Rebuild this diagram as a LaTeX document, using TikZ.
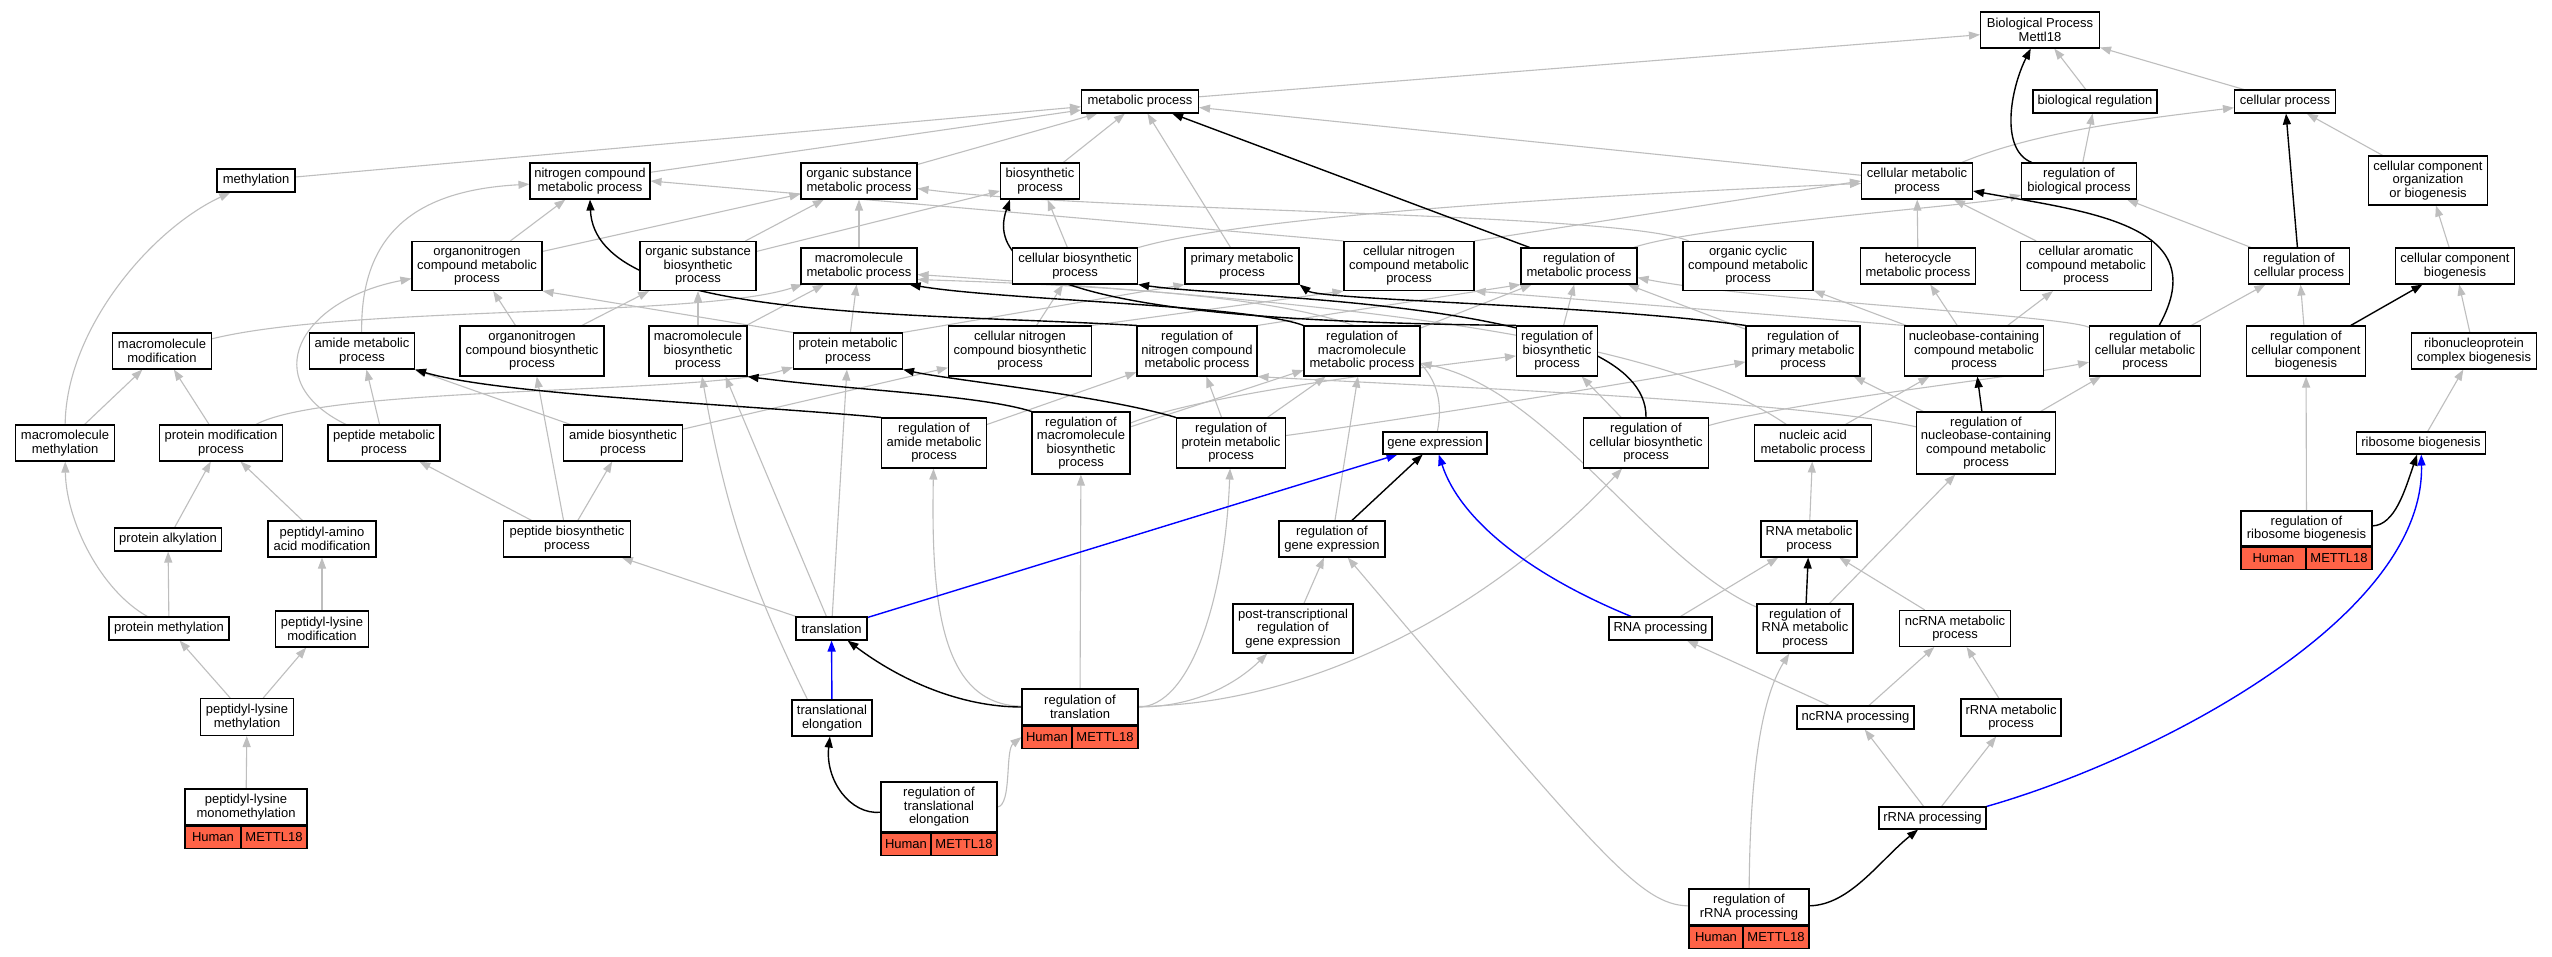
\documentclass[tikz,border=0pt]{standalone}
\usepackage{fontspec}
\setmainfont{Liberation Sans}
\usetikzlibrary{arrows.meta,backgrounds}
\definecolor{edgegray}{RGB}{190,190,190}
\definecolor{hitred}{RGB}{255,99,71}
\definecolor{partblue}{RGB}{0,0,255}

\begin{document}
\begin{tikzpicture}[x=1pt,y=1pt,
    term/.style={rectangle,draw=black,line width=1.1pt,fill=white,align=center,
      inner sep=0pt,font=\fontsize{13}{13.5}\selectfont},
    box/.style 2 args={minimum width=#1pt,minimum height=#2pt},
    hit/.style={term,fill=hitred,minimum height=22pt},
    isa/.style={draw=edgegray,line width=1.1pt,-{Triangle[length=11pt,width=8pt]}},
    reg/.style={draw=black,line width=1.4pt,-{Triangle[length=11pt,width=8pt]}},
    partof/.style={draw=partblue,line width=1.4pt,-{Triangle[length=11pt,width=8pt]}}]

        \useasboundingbox (0,0) rectangle (2552,-957);
        \begin{scope}[on background layer]
          \fill[white] (0,0) rectangle (2552,-957);
        \end{scope}

        \begin{scope}[every node/.style={term}]
          % row 0 and 1
          \node[box={119}{36}] (BP)       at (2040,-30)    {Biological Process\\Mettl18};
          \node[box={117}{23}] (metab)    at (1140,-101.5) {metabolic process};
          \node[box={124}{23}] (bioreg)   at (2095,-101.5) {biological regulation};
          \node[box={101}{23}] (cellproc) at (2285,-101.5) {cellular process};
          % row 2
          \node[box={78}{23}]  (methyl)  at (256,-180.5)  {methylation};
          \node[box={120}{36}] (nitro)   at (590,-181)    {nitrogen compound\\metabolic process};
          \node[box={116}{36}] (orgsub)  at (859,-181)    {organic substance\\metabolic process};
          \node[box={79}{36}]  (biosyn)  at (1040,-181)   {biosynthetic\\process};
          \node[box={111}{36}] (cellmet) at (1917,-181)   {cellular metabolic\\process};
          \node[box={115}{36}] (regbio)  at (2079,-181)   {regulation of\\biological process};
          \node[box={119}{49}] (ccob)    at (2428,-180.5) {cellular component\\organization\\or biogenesis};
          % row 3
          \node[box={130}{49}] (orgnmet)     at (477,-266)  {organonitrogen\\compound metabolic\\process};
          \node[box={116}{49}] (orgsubbio)   at (698,-266)  {organic substance\\biosynthetic\\process};
          \node[box={116}{36}] (macromet)    at (859,-266)  {macromolecule\\metabolic process};
          \node[box={125}{36}] (cellbio)     at (1075,-266) {cellular biosynthetic\\process};
          \node[box={114}{36}] (primary)     at (1242,-266) {primary metabolic\\process};
          \node[box={130}{49}] (cellnitmet)  at (1409,-266) {cellular nitrogen\\compound metabolic\\process};
          \node[box={116}{36}] (regmet)      at (1579,-266) {regulation of\\metabolic process};
          \node[box={130}{49}] (orgcyc)      at (1748,-266) {organic cyclic\\compound metabolic\\process};
          \node[box={115}{36}] (hetero)      at (1918,-266) {heterocycle\\metabolic process};
          \node[box={131}{49}] (cellarom)    at (2086,-266) {cellular aromatic\\compound metabolic\\process};
          \node[box={101}{36}] (regcellproc) at (2299,-266) {regulation of\\cellular process};
          \node[box={119}{36}] (ccbio)       at (2455,-266) {cellular component\\biogenesis};
          % row 4
          \node[box={99}{36}]  (macromod)    at (162,-351)  {macromolecule\\modification};
          \node[box={105}{36}] (amide)       at (362,-351)  {amide metabolic\\process};
          \node[box={144}{50}] (orgnbio)     at (532,-351)  {organonitrogen\\compound biosynthetic\\process};
          \node[box={98}{50}]  (macrobio)    at (698,-351)  {macromolecule\\biosynthetic\\process};
          \node[box={109}{36}] (protmet)     at (848,-351)  {protein metabolic\\process};
          \node[box={143}{50}] (cellnitbio)  at (1020,-351) {cellular nitrogen\\compound biosynthetic\\process};
          \node[box={120}{50}] (regnit)      at (1197,-351) {regulation of\\nitrogen compound\\metabolic process};
          \node[box={116}{50}] (regmacromet) at (1362,-351) {regulation of\\macromolecule\\metabolic process};
          \node[box={81}{50}]  (regbiosyn)   at (1557,-351) {regulation of\\biosynthetic\\process};
          \node[box={114}{50}] (regprim)     at (1803,-351) {regulation of\\primary metabolic\\process};
          \node[box={139}{50}] (nucmet)      at (1974,-351) {nucleobase-containing\\compound metabolic\\process};
          \node[box={111}{50}] (regcellmet)  at (2145,-351) {regulation of\\cellular metabolic\\process};
          \node[box={119}{50}] (regccbio)    at (2306,-351) {regulation of\\cellular component\\biogenesis};
          \node[box={125}{36}] (rnpbio)      at (2474,-351) {ribonucleoprotein\\complex biogenesis};
          % row 5
          \node[box={99}{36}]  (macrometh)   at (65,-443)   {macromolecule\\methylation};
          \node[box={123}{36}] (protmod)     at (221,-443)  {protein modification\\process};
          \node[box={112}{36}] (peptidemet)  at (384,-443)  {peptide metabolic\\process};
          \node[box={119}{36}] (amidebio)    at (623,-443)  {amide biosynthetic\\process};
          \node[box={105}{50}] (regamide)    at (934,-443)  {regulation of\\amide metabolic\\process};
          \node[box={98}{62}]  (regmacrobio) at (1081,-443) {regulation of\\macromolecule\\biosynthetic\\process};
          \node[box={109}{50}] (regprot)     at (1231,-443) {regulation of\\protein metabolic\\process};
          \node[box={104}{22}] (genexp)      at (1435,-443) {gene expression};
          \node[box={125}{50}] (regcellbio)  at (1646,-443) {regulation of\\cellular biosynthetic\\process};
          \node[box={117}{36}] (nucacid)     at (1813,-443) {nucleic acid\\metabolic process};
          \node[box={139}{62}] (regnuc)      at (1986,-443) {regulation of\\nucleobase-containing\\compound metabolic\\process};
          \node[box={129}{22}] (ribobio)     at (2421,-443) {ribosome biogenesis};
          % row 6
          \node[box={107}{23}] (protalk)    at (168,-539.5)  {protein alkylation};
          \node[box={108}{36}] (pepaa)      at (322,-539)    {peptidyl-amino\\acid modification};
          \node[box={127}{36}] (peptidebio) at (567,-539)    {peptide biosynthetic\\process};
          \node[box={106}{36}] (reggene)    at (1332,-539)   {regulation of\\gene expression};
          \node[box={96}{36}]  (rnamet)     at (1809,-539)   {RNA metabolic\\process};
          \node[box={131}{35}] (regribo)    at (2306.5,-528.5) {regulation of\\ribosome biogenesis};
          % row 7
          \node[box={120}{23}] (protmeth)    at (169,-628.5)  {protein methylation};
          \node[box={93}{36}]  (peplysmod)   at (322,-629)    {peptidyl-lysine\\modification};
          \node[box={71}{23}]  (translation) at (831.5,-628.5) {translation};
          \node[box={120}{49}] (ptreg)       at (1293,-628.5) {post-transcriptional\\regulation of\\gene expression};
          \node[box={103}{23}] (rnaproc)     at (1660.5,-628.5) {RNA processing};
          \node[box={96}{49}]  (regrna)      at (1805,-628.5) {regulation of\\RNA metabolic\\process};
          \node[box={111}{36}] (ncrnamet)    at (1955,-628.5) {ncRNA metabolic\\process};
          % row 8
          \node[box={93}{37}]  (peplysmeth)  at (247,-717)    {peptidyl-lysine\\methylation};
          \node[box={80}{36}]  (translelong) at (832,-718)    {translational\\elongation};
          \node[box={116}{36}] (regtransl)   at (1080,-707)   {regulation of\\translation};
          \node[box={117}{23}] (ncrnaproc)   at (1855.5,-717.5) {ncRNA processing};
          \node[box={100}{37}] (rrnamet)     at (2011,-717.5) {rRNA metabolic\\process};
          % row 9 and 10
          \node[box={122}{36}] (mono)           at (246,-807)    {peptidyl-lysine\\monomethylation};
          \node[box={116}{50}] (regtranslelong) at (939,-807)    {regulation of\\translational\\elongation};
          \node[box={107}{22}] (rrnaproc)       at (1932.5,-818) {rRNA processing};
          \node[box={120}{36}] (regrrna)        at (1749,-907)   {regulation of\\rRNA processing};

          % annotation rows
          \node[hit,anchor=north west,minimum width=56pt] (monoH) at (mono.south west) {Human};
          \node[hit,anchor=north east,minimum width=66pt] (monoM) at (mono.south east) {METTL18};
          \node[hit,anchor=north west,minimum width=50pt] (regtranslelongH) at (regtranslelong.south west) {Human};
          \node[hit,anchor=north east,minimum width=66pt] (regtranslelongM) at (regtranslelong.south east) {METTL18};
          \node[hit,anchor=north west,minimum width=50pt] (regtranslH) at (regtransl.south west) {Human};
          \node[hit,anchor=north east,minimum width=66pt] (regtranslM) at (regtransl.south east) {METTL18};
          \node[hit,anchor=north west,minimum width=65pt] (regriboH) at (regribo.south west) {Human};
          \node[hit,anchor=north east,minimum width=66pt] (regriboM) at (regribo.south east) {METTL18};
          \node[hit,anchor=north west,minimum width=54pt] (regrrnaH) at (regrrna.south west) {Human};
          \node[hit,anchor=north east,minimum width=66pt] (regrrnaM) at (regrrna.south east) {METTL18};
        \end{scope}

        \begin{scope}[on background layer]

          \begin{scope}[every edge/.style={isa}]
            \path (metab) edge (BP);
            \path (bioreg) edge (BP);
            \path (cellproc) edge (BP);
            \path (regbio) edge (bioreg);
            \path (cellmet) edge (metab);
            \path (methyl) edge (metab);
            \path (nitro) edge (metab);
            \path (orgsub) edge (metab);
            \path (biosyn) edge (metab);
            \path (primary) edge (metab);
            \path (ccob) edge (cellproc);
            \path (regcellproc) edge (regbio);
            \path (ccbio) edge (ccob);
            \path (regccbio) edge (regcellproc);
            \path (rnpbio) edge (ccbio);
            \path (ribobio) edge (rnpbio);
            \path (regribo) edge (regccbio);
            \path (regcellmet) edge (regcellproc);
            \path (orgnmet) edge (nitro);
            \path (orgnmet) edge (orgsub);
            \path (orgsubbio) edge (orgsub);
            \path (orgsubbio) edge (biosyn);
            \path (macromet) edge (orgsub);
            \path (cellbio) edge (biosyn);
            \path (cellnitmet.north east) edge (cellmet.west);
            \path (cellnitmet.north west) edge (nitro.east);
            \path (hetero) edge (cellmet);
            \path (cellarom) edge (cellmet);
            \path (regbiosyn) edge (regmet);
            \path (regprim) edge (regmet);
            \path (regnit.north east) edge (regmet.south west);
            \path (regmacromet) edge (regmet);
            \path (regamide) edge (regnit);
            \path (regmacrobio) edge (regmacromet);
            \path (regprot) edge (regmacromet);
            \path (regprot) edge (regnit);
            \path (regcellbio) edge (regbiosyn);
            \path (regnuc) edge (regcellmet);
            \path (regnuc) edge (regprim);
            \path (regrna) edge (regnuc);
            \path (nucmet) edge (hetero);
            \path (nucmet) edge (cellarom);
            \path (nucmet) edge (orgcyc);
            \path (nucmet.north west) edge (cellnitmet.south east);
            \path (nucacid) edge (nucmet);
            \path (rnamet) edge (nucacid);
            \path (ncrnamet) edge (rnamet);
            \path (ncrnaproc) edge (ncrnamet);
            \path (ncrnaproc) edge (rnaproc);
            \path (rrnamet) edge (ncrnamet);
            \path (rrnaproc) edge (ncrnaproc);
            \path (rrnaproc) edge (rrnamet);
            \path (rnaproc) edge (rnamet);
            \path (reggene) edge (regmacromet);
            \path (ptreg) edge (reggene);
            \path (translation) edge (peptidebio);
            \path (translation) edge ([xshift=-22pt]macrobio.south east);
            \path (translation) edge (protmet);
            \path ([xshift=16pt]translelong.north west) edge[bend left=8] ([xshift=4pt]macrobio.south);
            \path (regtransl) edge (regmacrobio);
            \path (cellnitbio) edge (cellbio);
            \path (cellnitbio.north east) edge (cellnitmet.south west);
            \path (amidebio) edge (amide);
            \path (amidebio) edge (cellnitbio);
            \path (orgnbio) edge (orgnmet);
            \path (orgnbio) edge (orgsubbio);
            \path (macrobio) edge (orgsubbio);
            \path (macrobio) edge (macromet);
            \path (protmet) edge (macromet);
            \path (protmet.north west) edge (orgnmet.south east);
            \path (protmet.north east) edge (primary.south west);
            \path (peptidemet) edge (amide);
            \path (peptidebio) edge (peptidemet);
            \path (peptidebio) edge (amidebio);
            \path (peptidebio) edge (orgnbio);
            \path (protmod) edge (macromod);
            \path (macrometh) edge (macromod);
            \path (protalk) edge (protmod);
            \path (pepaa) edge (protmod);
            \path (protmeth) edge (protalk);
            \path (peplysmod) edge (pepaa);
            \path (peplysmeth) edge (protmeth);
            \path (peplysmeth) edge (peplysmod);
            \path (mono) edge (peplysmeth);
          \end{scope}

          % curved is_a links
          \draw[isa] (cellmet) .. controls (2040,-130) and (2150,-118) .. (cellproc);
          \draw[isa] (regmet) .. controls (1700,-225) and (1980,-205) .. (regbio);
          \draw[isa] (regcellmet) .. controls (2060,-315) and (1750,-300) .. (regmet);
          \draw[isa] (orgcyc) .. controls (1620,-212) and (1100,-212) .. (orgsub);
          \draw[isa] (cellbio) .. controls (1250,-215) and (1600,-195) .. (cellmet);
          \draw[isa] (macrometh) .. controls (66,-330) and (150,-230) .. (methyl);
          \draw[isa] (protmeth) .. controls (100,-590) and (66,-520) .. (macrometh);
          \draw[isa] (peptidemet) .. controls (255,-380) and (300,-300) .. (orgnmet);
          \draw[isa] (amide) .. controls (360,-230) and (420,-190) .. (nitro);
          \draw[isa] (macromod) .. controls (350,-305) and (700,-318) .. (macromet);
          \draw[isa] (protmod) .. controls (330,-385) and (700,-395) .. (protmet);
          \draw[isa] (genexp) .. controls (1460,-320) and (1300,-292) .. ([yshift=5pt]macromet.south east);
          \draw[isa] (nucacid) .. controls (1650,-330) and (1300,-300) .. ([yshift=10pt]macromet.south east);
          \draw[isa] (regrna) .. controls (1650,-560) and (1550,-390) .. (regmacromet);
          \draw[isa] (regnuc) .. controls (1800,-400) and (1400,-385) .. (regnit.south east);
          \draw[isa] (regmacrobio) .. controls (1200,-395) and (1400,-370) .. (regbiosyn);
          \draw[isa] (regprot) .. controls (1400,-420) and (1650,-380) .. (regprim);
          \draw[isa] (regcellbio) .. controls (1800,-400) and (2000,-380) .. (regcellmet);
          \draw[isa] (regtransl) .. controls (940,-705) and (931,-600) .. (regamide);
          \draw[isa] (regtransl) .. controls (1190,-707) and (1225,-600) .. (regprot);
          \draw[isa] (regtransl) .. controls (1200,-707) and (1240,-680) .. (ptreg);
          \draw[isa] (regtransl) .. controls (1300,-705) and (1480,-620) .. (regcellbio);
          \draw[isa] (regtranslelong.east) .. controls (1012,-805) and (1005,-750) .. (regtranslH.west);
          \draw[isa] (regrrna) .. controls (1640,-905) and (1600,-855) .. (reggene);
          \draw[isa] (regrrna) .. controls (1750,-780) and (1760,-700) .. (regrna);

          % regulates links
          \draw[reg] (regbio) .. controls (2000,-150) and (2010,-90) .. (BP);
          \draw[reg] (regmet) -- (metab);
          \draw[reg] (regcellproc) -- (cellproc);
          \draw[reg] (regccbio) -- (ccbio);
          \draw[reg] (regcellmet) .. controls (2215,-225) and (2090,-212) .. (cellmet);
          \draw[reg] (regnuc) -- (nucmet);
          \draw[reg] (regrna) -- (rnamet);
          \draw[reg] (reggene) -- (genexp);
          \draw[reg] (regribo) .. controls (2395,-525) and (2405,-490) .. (ribobio);
          \draw[reg] (regrrna) .. controls (1850,-905) and (1880,-860) .. (rrnaproc);
          \draw[reg] (regtranslelong) .. controls (850,-815) and (825,-780) .. (translelong);
          \draw[reg] (regtransl) .. controls (960,-707) and (900,-680) .. (translation);
          \draw[reg] (regbiosyn.north west) .. controls (1200,-322) and (975,-300) .. ([xshift=10pt]biosyn.south west);
          \draw[reg] (regprim.north west) .. controls (1600,-305) and (1320,-300) .. (primary.south east);
          \draw[reg] (regcellbio.north) .. controls (1648,-300) and (1250,-300) .. (cellbio.south east);
          \draw[reg] (regmacromet.north west) .. controls (1250,-305) and (1000,-300) .. ([xshift=-8pt]macromet.south east);
          \draw[reg] (regnit.north west) .. controls (900,-312) and (595,-320) .. (nitro.south);
          \draw[reg] (regamide.north west) .. controls (750,-405) and (500,-395) .. (amide.south east);
          \draw[reg] (regmacrobio.north west) .. controls (980,-395) and (850,-390) .. (macrobio.south east);
          \draw[reg] (regprot.north west) .. controls (1100,-395) and (950,-380) .. (protmet.south east);

          % part of links
          \draw[partof] (translelong) -- (translation);
          \draw[partof] (translation) -- (genexp);
          \draw[partof] (rnaproc) .. controls (1530,-575) and (1460,-520) .. (genexp);
          \draw[partof] (rrnaproc.north east) .. controls (2150,-760) and (2425,-620) .. (ribobio);
        \end{scope}

      \end{tikzpicture}
\end{document}
